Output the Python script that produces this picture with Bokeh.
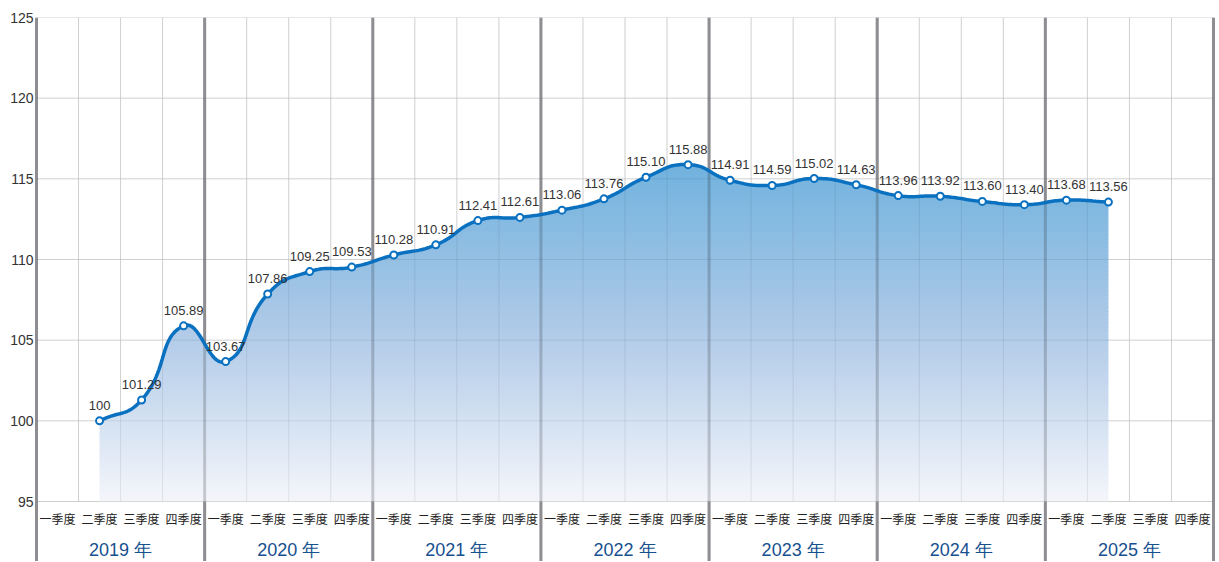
import numpy as np
from bokeh.plotting import figure
from bokeh.models import Range1d, FixedTicker
from bokeh.core.properties import value
from bokeh.embed import file_html
from bokeh.resources import INLINE

# ---- data ----
years = ["2019 年", "2020 年", "2021 年", "2022 年", "2023 年", "2024 年", "2025 年"]
quarters = ["一季度", "二季度", "三季度", "四季度"]
# index of quarter slot (0 = 2019 Q1) for each value
slot_idx = [1, 2, 3, 4, 5, 6, 7, 8, 9, 10, 11, 12, 13, 14, 15, 16, 17, 18, 19, 20, 21, 22, 23, 24, 25]
values = [100.00, 101.29, 105.89,
          103.67, 107.86, 109.25, 109.53,
          110.28, 110.91, 112.41, 112.61,
          113.06, 113.76, 115.10, 115.88,
          114.91, 114.59, 115.02, 114.63,
          113.96, 113.92, 113.60, 113.40,
          113.68, 113.56]
labels = ["100", "101.29", "105.89",
          "103.67", "107.86", "109.25", "109.53",
          "110.28", "110.91", "112.41", "112.61",
          "113.06", "113.76", "115.10", "115.88",
          "114.91", "114.59", "115.02", "114.63",
          "113.96", "113.92", "113.60", "113.40",
          "113.68", "113.56"]
y_ticks = [95, 100, 105, 110, 115, 120, 125]

n_slots = len(years) * len(quarters)
xs_pts = np.array(slot_idx, dtype=float) + 0.5
ys_pts = np.array(values, dtype=float)

# ---- figure ----
Y0, Y1 = 95, 125
px_x = 1177 / 28.0
px_y = 484 / 30.0
x_pad = 3 / px_x
FRAME_H = 544
y_bottom = Y1 - FRAME_H / px_y

p = figure(width=1218, height=17 + FRAME_H, output_backend="svg", toolbar_location=None,
           x_range=Range1d(-x_pad, n_slots + x_pad), y_range=Range1d(y_bottom, Y1),
           min_border_left=33, min_border_right=2, min_border_top=17, min_border_bottom=0)
p.xaxis.visible = False
p.xgrid.visible = False
p.ygrid.visible = False
p.outline_line_color = None
p.background_fill_color = "white"
p.border_fill_color = "white"
ax = p.yaxis[0]
ax.ticker = FixedTicker(ticks=y_ticks)
ax.axis_line_color = None
ax.major_tick_line_color = None
ax.minor_tick_line_color = None
ax.major_tick_out = 0
ax.major_tick_in = 0
ax.minor_tick_out = 0
ax.major_label_standoff = 0
ax.major_label_text_font = "Liberation Sans"
ax.major_label_text_font_size = "14px"
ax.major_label_text_color = "#333333"

# ---- smoothing (ECharts-like bezier, display only) ----
def smooth_curve(xd, yd, smooth=0.5, steps=24):
    X = xd * px_x
    Y = yd * px_y
    n = len(X)
    cps = []
    for i in range(n):
        pi = np.array([X[i], Y[i]])
        pp = np.array([X[i - 1], Y[i - 1]]) if i > 0 else pi
        pn = np.array([X[i + 1], Y[i + 1]]) if i < n - 1 else pi
        v = (pn - pp) * smooth
        d0 = np.linalg.norm(pi - pp)
        d1 = np.linalg.norm(pn - pi)
        s = d0 + d1
        if s == 0:
            cps.append((pi, pi))
            continue
        cin = pi - v * (d0 / s)
        cout = pi + v * (d1 / s)
        cps.append((cin, cout))
    outx, outy = [X[0]], [Y[0]]
    t = np.linspace(0, 1, steps + 1)[1:]
    for i in range(n - 1):
        P0 = np.array([X[i], Y[i]])
        P1 = cps[i][1]
        P2 = cps[i + 1][0]
        P3 = np.array([X[i + 1], Y[i + 1]])
        for tt in t:
            b = ((1 - tt) ** 3) * P0 + 3 * ((1 - tt) ** 2) * tt * P1 + 3 * (1 - tt) * tt * tt * P2 + tt ** 3 * P3
            outx.append(b[0])
            outy.append(b[1])
    return np.array(outx) / px_x, np.array(outy) / px_y

cx, cy = smooth_curve(xs_pts, ys_pts)

# ---- grid (under layer) ----
inner_x = [i for i in range(n_slots + 1) if i % 4 != 0]
sep_x = [i for i in range(0, n_slots + 1, 4)]
p.segment(x0=inner_x, y0=[Y0] * len(inner_x), x1=inner_x, y1=[Y1] * len(inner_x),
          line_color="#e2e2e2", line_width=1)
p.segment(x0=[0] * len(y_ticks), y0=y_ticks, x1=[n_slots] * len(y_ticks), y1=y_ticks,
          line_color="#e2e2e2", line_width=1)
p.segment(x0=sep_x, y0=[y_bottom] * len(sep_x), x1=sep_x, y1=[Y1] * len(sep_x),
          line_color="#adadb3", line_width=3)

# ---- gradient area (banded) ----
stops_v = [95.0, 105.5, 116.0]
stops_c = [(244, 246, 251), (176, 202, 232), (112, 178, 222)]
def col_at(v):
    r = np.interp(v, stops_v, [c[0] for c in stops_c])
    g = np.interp(v, stops_v, [c[1] for c in stops_c])
    b = np.interp(v, stops_v, [c[2] for c in stops_c])
    return "#%02x%02x%02x" % (int(round(r)), int(round(g)), int(round(b)))

band_h = 0.25
lo = Y0
top = cy.max()
while lo < top:
    hi = lo + band_h
    y1 = np.minimum(cy, lo)
    y2 = np.minimum(cy, hi + 0.06)
    p.varea(x=cx, y1=y1, y2=y2, fill_color=col_at(lo + band_h / 2), fill_alpha=1.0)
    lo = hi

# ---- grid (over layer) ----
p.segment(x0=inner_x, y0=[Y0] * len(inner_x), x1=inner_x, y1=[Y1] * len(inner_x),
          line_color="black", line_alpha=0.08, line_width=1)
p.segment(x0=[0] * len(y_ticks), y0=y_ticks, x1=[n_slots] * len(y_ticks), y1=y_ticks,
          line_color="black", line_alpha=0.08, line_width=1)
p.segment(x0=sep_x, y0=[y_bottom] * len(sep_x), x1=sep_x, y1=[Y1] * len(sep_x),
          line_color="black", line_alpha=0.18, line_width=3)

# ---- line + markers ----
p.line(cx, cy, line_color="#0a70c0", line_width=3.5)
p.scatter(xs_pts, ys_pts, size=7, marker="circle", fill_color="white",
          line_color="#0a70c0", line_width=2)

# ---- value labels ----
p.text(x=xs_pts, y=ys_pts, text=labels, text_align="center", text_baseline="bottom",
       y_offset=-11, text_font=value("Liberation Sans"), text_font_size="13px",
       text_color="#333333")

# ---- category labels ----
q_x = [i + 0.5 for i in range(n_slots)]
q_t = [quarters[i % 4] for i in range(n_slots)]
p.text(x=q_x, y=[Y0] * n_slots, text=q_t, text_align="center", text_baseline="middle",
       y_offset=17, text_font=value("Noto Sans CJK SC"), text_font_size="12px",
       text_color="#222222")
y_x = [i * 4 + 2 for i in range(len(years))]
p.text(x=y_x, y=[Y0] * len(years), text=years, text_align="center", text_baseline="middle",
       y_offset=48, text_font=value("Liberation Sans"), text_font_size="18px",
       text_color="#17508f")

open("out.html", "w").write(file_html(p, INLINE))
